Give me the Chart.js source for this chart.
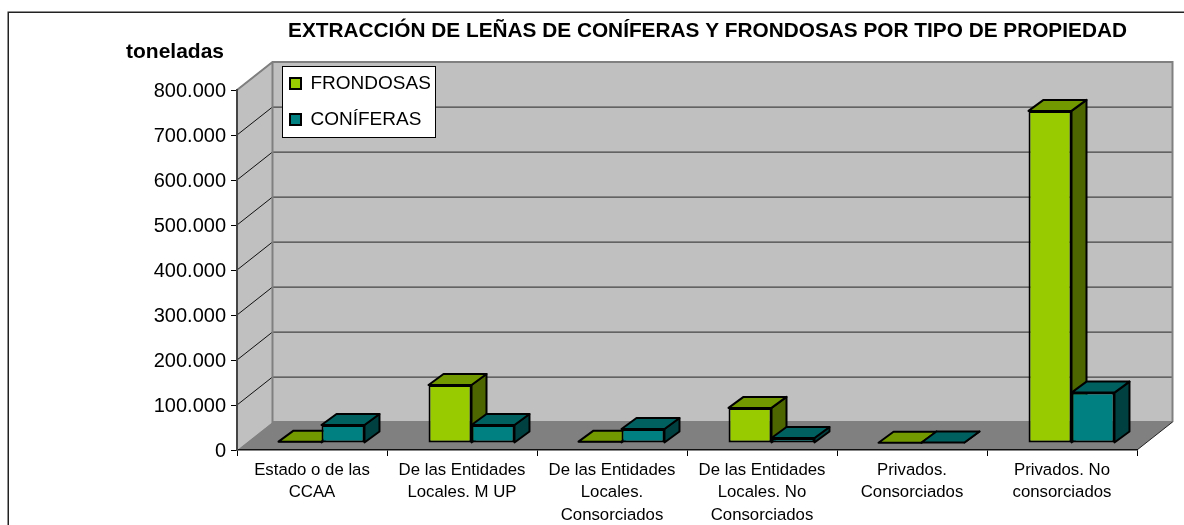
<!DOCTYPE html>
<html>
<head>
<meta charset="utf-8">
<script src="https://cdn.jsdelivr.net/npm/chart.js@4"></script>
<style>html,body{margin:0;padding:0;background:#fff}canvas{display:block}</style>
</head>
<body>
<canvas id="c" width="1184" height="525"></canvas>
<script>
const categories = [
  ["Estado o de las", "CCAA"],
  ["De las Entidades", "Locales. M UP"],
  ["De las Entidades", "Locales.", "Consorciados"],
  ["De las Entidades", "Locales. No", "Consorciados"],
  ["Privados.", "Consorciados"],
  ["Privados. No", "consorciados"]
];
const frondosas = [3000, 129000, 3000, 78000, 500, 738000];
const coniferas = [40000, 40000, 31000, 11000, 1000, 112000];
const chartTitle = "EXTRACCIÓN DE LEÑAS DE CONÍFERAS Y FRONDOSAS POR TIPO DE PROPIEDAD";
const unitLabel = "toneladas";

const FONT = '"Liberation Sans", Arial, sans-serif';
const WALL = {dx: 35.5, dy: -28};
const BAR_OFFSET = {dx: 9.5, dy: -7};
const BAR_DEPTH = {dx: 15, dy: -11};

const sceneColors = {
  FRONDOSAS: {top: '#739900', side: '#4D6600'},
  "CONÍFERAS": {top: '#006060', side: '#004040'}
};

function poly(ctx, pts, fill, stroke, lw) {
  ctx.beginPath();
  pts.forEach((p, i) => i ? ctx.lineTo(p[0], p[1]) : ctx.moveTo(p[0], p[1]));
  ctx.closePath();
  if (fill) { ctx.fillStyle = fill; ctx.fill(); }
  if (stroke) { ctx.strokeStyle = stroke; ctx.lineWidth = lw; ctx.lineJoin = 'round'; ctx.stroke(); }
}

const scene3d = {
  id: 'scene3d',
  afterLayout(chart) {
    const t = chart.titleBlock;
    t.left = 287; t.right = 1128; t.top = 31 - t.height / 2; t.bottom = t.top + t.height;
    const s = chart.boxes.find(b => b.options && b.options.text === unitLabel);
    s.left = 126; s.right = 224; s.top = 52 - s.height / 2; s.bottom = s.top + s.height;
    const l = chart.legend;
    const w = l.width, h = l.height;
    l.left = 273; l.top = 57; l.right = l.left + w; l.bottom = l.top + h;
    // y tick labels sit slightly lower than canvas "middle" in the reference
    const y = chart.scales.y;
    if (!y.$nudged) {
      const draw = y.drawLabels;
      y.drawLabels = function (area) {
        chart.ctx.save();
        chart.ctx.translate(0, 1.5);
        draw.call(this, area);
        chart.ctx.restore();
      };
      y.$nudged = true;
    }
  },
  beforeDraw(chart) {
    const {ctx, chartArea: a, scales: {y}} = chart;
    const {dx, dy} = WALL;
    ctx.save();
    // outer frame
    ctx.strokeStyle = '#222'; ctx.lineWidth = 1.5;
    ctx.beginPath(); ctx.moveTo(8.25, 525); ctx.lineTo(8.25, 12.25); ctx.lineTo(1184, 12.25); ctx.stroke();
    // walls and floor
    poly(ctx, [[a.left, a.top], [a.left + dx, a.top + dy], [a.left + dx, a.bottom + dy], [a.left, a.bottom]], '#C0C0C0');
    poly(ctx, [[a.left + dx, a.top + dy], [a.right + dx, a.top + dy], [a.right + dx, a.bottom + dy], [a.left + dx, a.bottom + dy]], '#C0C0C0');
    poly(ctx, [[a.left, a.bottom], [a.left + dx, a.bottom + dy], [a.right + dx, a.bottom + dy], [a.right, a.bottom]], '#808080');
    // grid
    y.ticks.forEach(t => {
      const py = y.getPixelForValue(t.value);
      if (t.value > 0) {
        ctx.strokeStyle = '#111'; ctx.lineWidth = 1;
        ctx.beginPath(); ctx.moveTo(a.left, py); ctx.lineTo(a.left + dx, py + dy); ctx.stroke();
      }
      if (t.value > 0 && t.value < y.max) {
        ctx.strokeStyle = '#444'; ctx.lineWidth = 1.25;
        ctx.beginPath(); ctx.moveTo(a.left + dx, py + dy); ctx.lineTo(a.right + dx, py + dy); ctx.stroke();
      }
    });
    // wall edges
    ctx.strokeStyle = '#808080'; ctx.lineWidth = 2;
    ctx.beginPath();
    ctx.moveTo(a.left, a.top); ctx.lineTo(a.left + dx, a.top + dy);
    ctx.lineTo(a.right + dx, a.top + dy); ctx.lineTo(a.right + dx, a.bottom + dy);
    ctx.moveTo(a.left + dx, a.top + dy); ctx.lineTo(a.left + dx, a.bottom + dy);
    ctx.lineTo(a.right + dx, a.bottom + dy);
    ctx.stroke();
    ctx.strokeStyle = '#222'; ctx.lineWidth = 1;
    ctx.beginPath(); ctx.moveTo(a.right, a.bottom); ctx.lineTo(a.right + dx, a.bottom + dy); ctx.stroke();
    // legend box
    ctx.fillStyle = '#fff'; ctx.fillRect(282.5, 66.5, 153, 71);
    ctx.strokeStyle = '#000'; ctx.lineWidth = 1; ctx.strokeRect(282.5, 66.5, 153, 71);
    ctx.restore();
  },
  beforeDatasetsDraw(chart) {
    const ctx = chart.ctx;
    const {dx, dy} = BAR_DEPTH;
    // Back-to-front: the first series sits left, so it is painted first.
    chart.data.datasets.forEach((ds, i) => {
      const meta = chart.getDatasetMeta(i);
      const col = sceneColors[ds.label];
      ctx.save();
      ctx.translate(BAR_OFFSET.dx, BAR_OFFSET.dy);
      meta.data.forEach(el => {
        const {x, y, base, width} = el.getProps(['x', 'y', 'base', 'width'], true);
        const l = x - width / 2, r = x + width / 2;
        poly(ctx, [[r, y], [r + dx, y + dy], [r + dx, base + dy], [r, base]], col.side, '#000', 2);
        poly(ctx, [[l, y], [l + dx, y + dy], [r + dx, y + dy], [r, y]], col.top, '#000', 2);
      });
      meta.controller.draw();
      ctx.restore();
    });
    return false;
  }
};

new Chart(document.getElementById('c'), {
  type: 'bar',
  plugins: [scene3d],
  data: {
    labels: categories,
    datasets: [
      {label: 'FRONDOSAS', data: frondosas, backgroundColor: '#99CC00', borderColor: '#000', borderWidth: 2, borderSkipped: false,
       categoryPercentage: 0.573, barPercentage: 1},
      {label: 'CONÍFERAS', data: coniferas, backgroundColor: '#008080', borderColor: '#000', borderWidth: 2, borderSkipped: false,
       categoryPercentage: 0.573, barPercentage: 1}
    ]
  },
  options: {
    responsive: false,
    animation: false,
    events: [],
    layout: {padding: {left: 0, right: 47, top: 0, bottom: 0}},
    plugins: {
      tooltip: {enabled: false},
      title: {display: true, text: chartTitle, color: '#000', padding: 0,
        font: {family: FONT, size: 20.8, weight: 'bold', lineHeight: '45px'}},
      subtitle: {display: true, text: unitLabel, color: '#000', padding: 0,
        font: {family: FONT, size: 21, weight: 'bold', lineHeight: '45px'}},
      legend: {display: true, position: 'chartArea', align: 'start',
        labels: {boxWidth: 11, boxHeight: 11, padding: 17, color: '#000', font: {family: FONT, size: 19}}}
    },
    scales: {
      x: {
        afterFit(s) { s.height = 75; },
        grid: {drawOnChartArea: false, drawTicks: true, tickLength: 6, color: '#000'},
        border: {color: '#111', width: 1.5},
        ticks: {color: '#000', maxRotation: 0, minRotation: 0, autoSkip: false, padding: 3,
          font: {family: FONT, size: 16.8, lineHeight: 1.34}}
      },
      y: {
        min: 0, max: 800000,
        afterFit(s) { s.width = 237; },
        grid: {drawOnChartArea: false, drawTicks: true, tickLength: 6, color: '#000'},
        border: {color: '#444', width: 2},
        ticks: {color: '#000', stepSize: 100000, padding: 5,
          callback: v => String(v).replace(/\B(?=(\d{3})+$)/g, '.'),
          font: {family: FONT, size: 20}}
      }
    }
  }
});
</script>
</body>
</html>
